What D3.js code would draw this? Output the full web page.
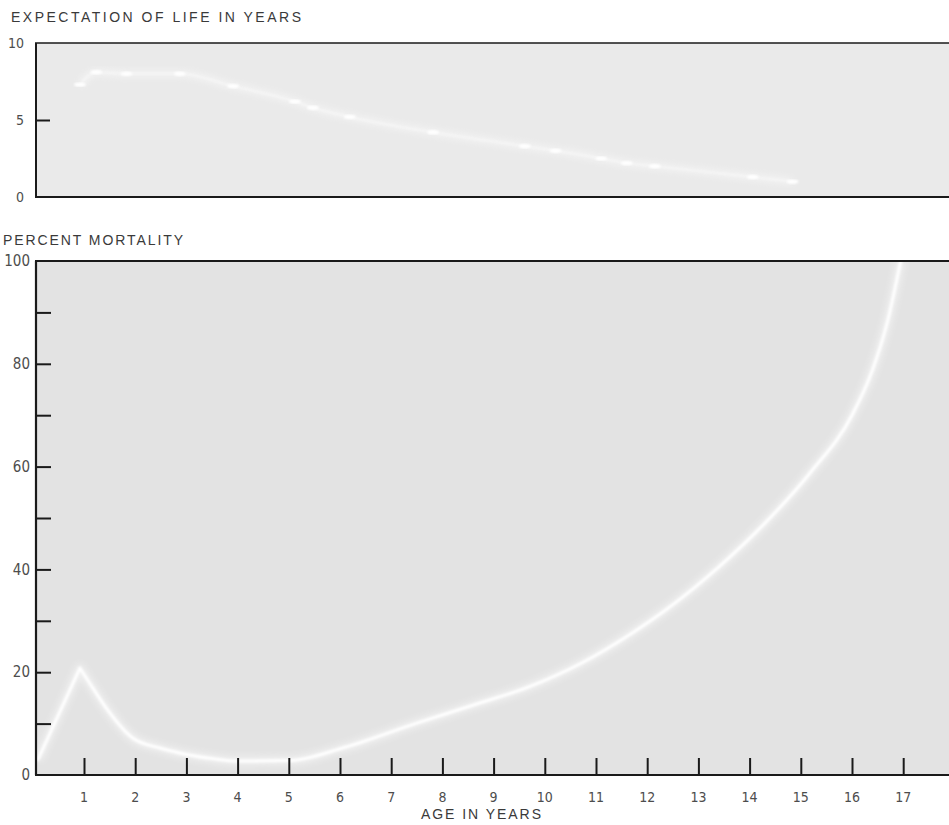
<!DOCTYPE html>
<html>
<head>
<meta charset="utf-8">
<script src="https://cdn.jsdelivr.net/npm/d3@7"></script>
<style>
  html, body { margin: 0; padding: 0; background: #ffffff; }
  svg { display: block; }
  text { font-family: "Liberation Sans Narrow", "DejaVu Sans Condensed", "Liberation Sans", sans-serif; fill: #4d4d4d; }
  text.title { font-family: "Liberation Sans", Arial, sans-serif; fill: #3a3a3a; }
</style>
</head>
<body>
<svg id="chart" width="949" height="825"></svg>
<script>
// Age (years) axis ticks
const ageTicks = [1,2,3,4,5,6,7,8,9,10,11,12,13,14,15,16,17];

// Expectation of life (years) by age
const lifeAges   = [0.92, 1.24, 1.83, 2.87, 3.91, 5.12, 5.47, 6.19, 7.82, 9.61, 10.21, 11.1, 11.6, 12.15, 14.06, 14.84];
const lifeValues = [7.3,  8.1,  8.0,  8.0,  7.2,  6.2,  5.8,  5.2,  4.2,  3.3,  3.0,   2.5,  2.2,  2.0,   1.3,   1.0];
const lifeTicks  = [0, 5, 10];

// Percent mortality by age
const mortAges   = [0.1, 0.92, 1.2,  1.45, 1.95, 2.5, 3.0, 3.5, 4.0, 5.0, 6.1, 7.5,  8.7,  9.7,  10.7, 11.7, 12.4, 13.4, 14.3, 15.2, 16.0, 16.4, 16.7, 16.95];
const mortValues = [3,   20.8, 16.5, 12.8, 7.2,  5.2, 4.0, 3.2, 2.7, 2.8, 5.4, 10.1, 13.9, 17.2, 21.7, 27.6, 32.4, 40.5, 49,   59,   70,   78.8, 88.5, 100];
const mortTicks      = [10,20,30,40,50,60,70,80,90];
const mortTickLabels = [0,20,40,60,80,100];

const svg = d3.select("#chart");
const W = 949;

const defs = svg.append("defs");
defs.append("filter").attr("id", "soft").attr("x", "-5%").attr("y", "-5%").attr("width", "110%").attr("height", "110%")
  .append("feGaussianBlur").attr("stdDeviation", 0.9);
defs.append("filter").attr("id", "halo").attr("x", "-5%").attr("y", "-5%").attr("width", "110%").attr("height", "110%")
  .append("feGaussianBlur").attr("stdDeviation", 3);

// Shared age scale
const x = d3.scaleLinear().domain([0, 18]).range([32.8, 954.4]);
const plotLeft = 36;

// ---------- Expectation of life panel ----------
const yTop = d3.scaleLinear().domain([0, 10]).range([197, 43]);

svg.append("rect")
  .attr("x", plotLeft).attr("y", yTop(10))
  .attr("width", W - plotLeft).attr("height", yTop(0) - yTop(10))
  .attr("fill", "#eaeaea");

const lifeData = lifeAges.map((a, i) => ({ age: a, v: lifeValues[i] }));
const lifeLine = d3.line().x(d => x(d.age)).y(d => yTop(d.v)).curve(d3.curveMonotoneX);

svg.append("path").datum(lifeData)
  .attr("d", lifeLine).attr("fill", "none")
  .attr("stroke", "#ffffff").attr("stroke-width", 7).attr("opacity", 0.4)
  .attr("filter", "url(#halo)");
svg.append("path").datum(lifeData)
  .attr("d", lifeLine).attr("fill", "none")
  .attr("stroke", "#ffffff").attr("stroke-width", 2).attr("opacity", 0.4)
  .attr("filter", "url(#soft)");
svg.append("g").selectAll("ellipse").data(lifeData).join("ellipse")
  .attr("cx", d => x(d.age)).attr("cy", d => yTop(d.v))
  .attr("rx", 6).attr("ry", 2.2)
  .attr("fill", "#ffffff")
  .attr("filter", "url(#soft)");

// frame lines and left axis
svg.append("line").attr("x1", plotLeft - 1).attr("x2", W).attr("y1", yTop(10)).attr("y2", yTop(10))
  .attr("stroke", "#1a1a1a").attr("stroke-width", 1.6);
svg.append("line").attr("x1", plotLeft - 1).attr("x2", W).attr("y1", yTop(0)).attr("y2", yTop(0))
  .attr("stroke", "#1a1a1a").attr("stroke-width", 1.8);

const topAxis = svg.append("g").attr("transform", `translate(${plotLeft},0)`)
  .call(d3.axisRight(yTop).tickValues([5]).tickSize(14).tickFormat(""));
topAxis.select(".domain").remove();
topAxis.selectAll(".tick line").attr("stroke", "#1a1a1a").attr("stroke-width", 2);
svg.append("line").attr("x1", plotLeft).attr("x2", plotLeft).attr("y1", yTop(10)).attr("y2", yTop(0))
  .attr("stroke", "#1a1a1a").attr("stroke-width", 2);

svg.append("g").selectAll("text").data(lifeTicks).join("text")
  .attr("x", 24).attr("y", d => yTop(d)).attr("dy", "0.35em")
  .attr("text-anchor", "end").attr("font-size", 14)
  .text(d => d);

svg.append("text").attr("class", "title")
  .attr("x", 11).attr("y", 22)
  .attr("font-size", 14)
  .attr("textLength", 290).attr("lengthAdjust", "spacing")
  .text("EXPECTATION OF LIFE IN YEARS");

// ---------- Percent mortality panel ----------
const yBot = d3.scaleLinear().domain([0, 100]).range([775, 261]);

svg.append("rect")
  .attr("x", plotLeft).attr("y", yBot(100))
  .attr("width", W - plotLeft).attr("height", yBot(0) - yBot(100))
  .attr("fill", "#e3e3e3");

const mortData = mortAges.map((a, i) => ({ age: a, v: mortValues[i] }));
// sharp peak at the first year: straight rise, smooth fall and recovery
const peakIdx = mortValues.indexOf(d3.max(mortValues.slice(0, 5)));
const rise = mortData.slice(0, peakIdx + 1);
const fall = mortData.slice(peakIdx);
const riseLine = d3.line().x(d => x(d.age)).y(d => yBot(d.v)).curve(d3.curveLinear);
const fallLine = d3.line().x(d => x(d.age)).y(d => yBot(d.v)).curve(d3.curveMonotoneX);
const mortPath = riseLine(rise) + fallLine(fall).replace(/^M/, "L");

svg.append("path")
  .attr("d", mortPath).attr("fill", "none")
  .attr("stroke", "#ffffff").attr("stroke-width", 9).attr("opacity", 0.45)
  .attr("stroke-linejoin", "round").attr("filter", "url(#halo)");
svg.append("path")
  .attr("d", mortPath).attr("fill", "none")
  .attr("stroke", "#ffffff").attr("stroke-width", 3)
  .attr("stroke-linejoin", "round").attr("stroke-linecap", "round")
  .attr("filter", "url(#soft)");

// top frame line
svg.append("line").attr("x1", plotLeft - 1).attr("x2", W).attr("y1", yBot(100)).attr("y2", yBot(100))
  .attr("stroke", "#1a1a1a").attr("stroke-width", 1.8);

// y axis (ticks pointing inward)
const yAxisG = svg.append("g").attr("transform", `translate(${plotLeft},0)`)
  .call(d3.axisRight(yBot).tickValues(mortTicks).tickSize(15).tickFormat(""));
yAxisG.select(".domain").remove();
yAxisG.selectAll(".tick line").attr("stroke", "#1a1a1a").attr("stroke-width", 2);
svg.append("line").attr("x1", plotLeft).attr("x2", plotLeft).attr("y1", yBot(100)).attr("y2", yBot(0))
  .attr("stroke", "#1a1a1a").attr("stroke-width", 2.2);

svg.append("g").selectAll("text").data(mortTickLabels).join("text")
  .attr("x", 30).attr("y", d => yBot(d)).attr("dy", "0.35em")
  .attr("text-anchor", "end").attr("font-size", 15)
  .text(d => d);

// x axis (ticks pointing up into the plot)
const xAxisG = svg.append("g").attr("transform", `translate(0,${yBot(0)})`)
  .call(d3.axisTop(x).tickValues(ageTicks).tickSize(17).tickFormat(""));
xAxisG.select(".domain").remove();
xAxisG.selectAll(".tick line").attr("stroke", "#1a1a1a").attr("stroke-width", 2);
svg.append("line").attr("x1", plotLeft - 1).attr("x2", W).attr("y1", yBot(0)).attr("y2", yBot(0))
  .attr("stroke", "#1a1a1a").attr("stroke-width", 2.2);

svg.append("g").selectAll("text").data(ageTicks).join("text")
  .attr("x", d => x(d)).attr("y", 797).attr("dy", "0.35em")
  .attr("text-anchor", "middle").attr("font-size", 14)
  .text(d => d);

svg.append("text").attr("class", "title")
  .attr("x", 3).attr("y", 245)
  .attr("font-size", 14)
  .attr("textLength", 180).attr("lengthAdjust", "spacing")
  .text("PERCENT MORTALITY");

svg.append("text").attr("class", "title")
  .attr("x", 421).attr("y", 819)
  .attr("font-size", 14)
  .attr("textLength", 120).attr("lengthAdjust", "spacing")
  .text("AGE IN YEARS");
</script>
</body>
</html>
